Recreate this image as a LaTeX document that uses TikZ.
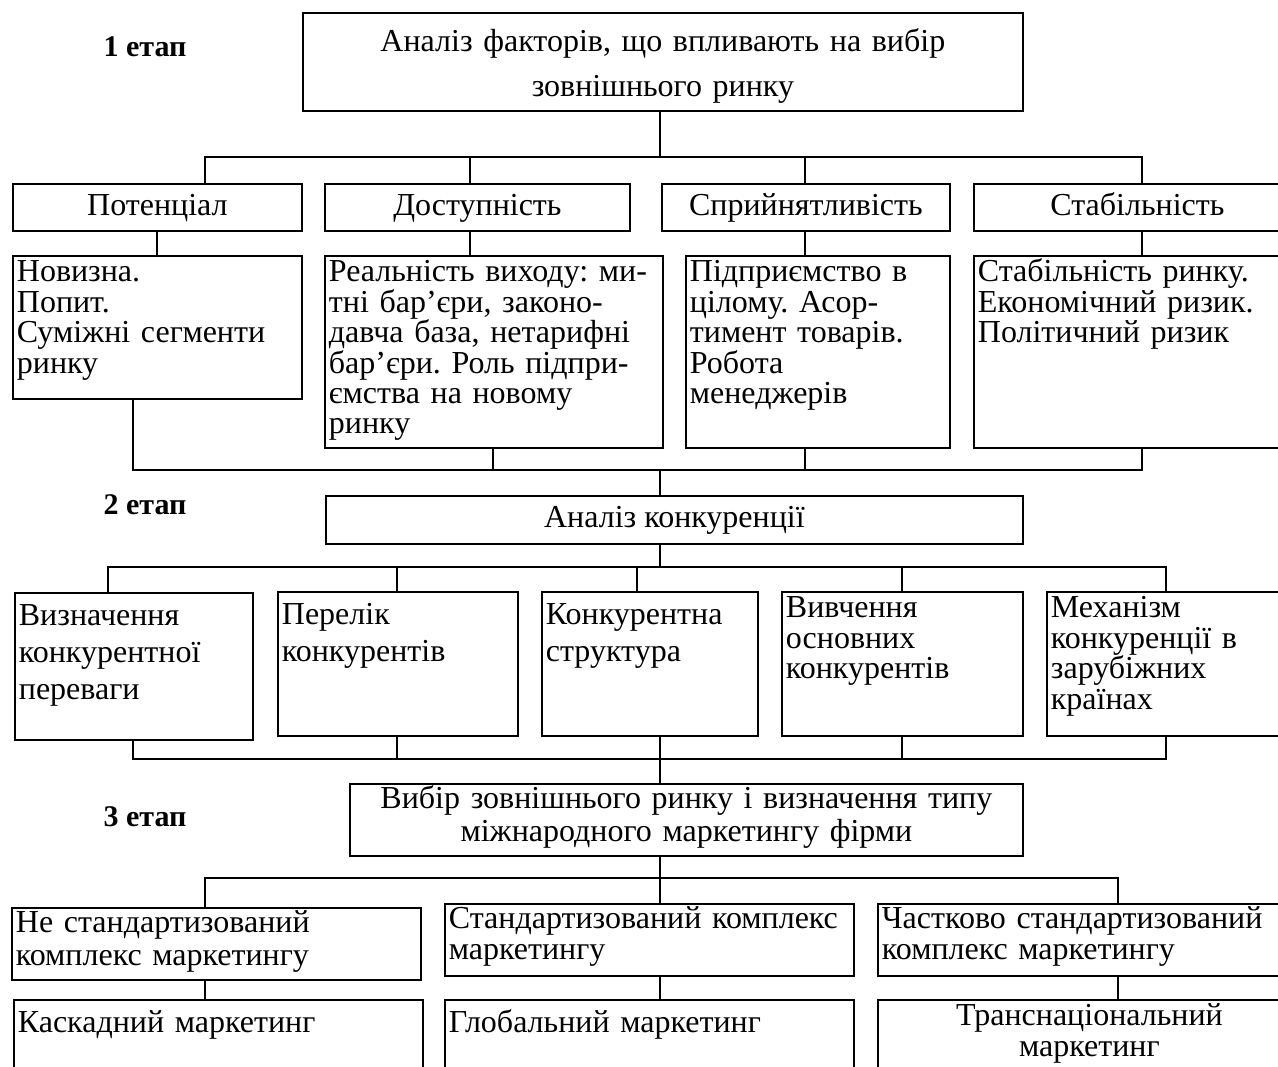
\documentclass[tikz,border=0pt]{standalone}
\usepackage{fontspec}
\setmainfont{Liberation Serif}
\usepackage{tikz}
\usetikzlibrary{positioning}

\begin{document}
\frenchspacing
\begin{tikzpicture}[
        x=0.5pt, y=-0.5pt,
        line width=0.9pt,
        txt/.style={font=\fontsize{16}{#1}\selectfont},
        head/.style={draw, anchor=north west, align=center, inner sep=0pt, text height=11.5pt, text depth=3.5pt, txt=15.2},
        note/.style={draw, anchor=north west, align=left, inner xsep=2pt, inner ysep=0pt, text height=13pt, txt=15.2},
        stage/.style={font=\fontsize{15}{18}\selectfont\bfseries}
    ]
        \useasboundingbox (0,0) rectangle (1278,1066);
        \clip (0,0) rectangle (1278,1066);

        % 1 етап
        \node[stage] (st1) at (145,47) {1 етап};
        \node[note, align=center, txt=22.5, text height=19.5pt, text width=356pt, text depth=29.5pt] (top) at (302,12) {Аналіз факторів, що впливають на вибір\\зовнішнього ринку};
        \coordinate (bus1) at (660,157);

        \node[head, minimum width=144.5pt, minimum height=23.5pt] (pot) at (12,183) {Потенціал};
        \node[head, minimum width=152.5pt, minimum height=23.5pt] (dost) at (324,183) {Доступність};
        \node[head, minimum width=144pt, minimum height=23.5pt] (spr) at (661,183) {Сприйнятливість};
        \node[head, minimum width=163.5pt, minimum height=23.5pt] (stab) at (973,183) {Стабільність};

        \node[note, text width=140.5pt, text depth=58.5pt] (pot2) at (12,255) {Новизна.\\Попит.\\Суміжні сегменти\\ринку};
        \node[note, text width=165pt, text depth=83pt] (dost2) at (324,255) {Реальність виходу: ми-\\тні бар’єри, законо-\\давча база, нетарифні\\бар’єри. Роль підпри-\\ємства на новому\\ринку};
        \node[note, text width=128pt, text depth=83pt] (spr2) at (685,255) {Підприємство в\\цілому. Асор-\\тимент товарів.\\Робота\\менеджерів};
        \node[note, text width=159.5pt, text depth=83pt] (stab2) at (973,255) {Стабільність ринку.\\Економічний ризик.\\Політичний ризик};

        \draw (top.south -| bus1) -- (bus1);
        \draw (pot.north -| 205,0) |- (bus1) -| (stab.north -| 1142,0);
        \draw (dost.north -| 470,0) -- (470,0 |- bus1);
        \draw (spr.north -| 805,0) -- (805,0 |- bus1);
        \foreach \x/\n in {157/pot, 470/dost, 805/spr, 1142/stab}
            \draw (\n.south -| \x,0) -- (\x,0 |- \n2.north);

        % 2 етап
        \node[stage] (st2) at (145,505) {2 етап};
        \coordinate (bus2) at (660,470);
        \node[head, minimum width=348.5pt, minimum height=24pt] (konk) at (325,495) {Аналіз конкуренції};
        \draw (pot2.south -| 133,0) |- (bus2) -| (stab2.south -| 1142,0);
        \draw (dost2.south -| 493,0) -- (493,0 |- bus2);
        \draw (spr2.south -| 805,0) -- (805,0 |- bus2);
        \draw (bus2) -- (konk.north -| bus2);

        \coordinate (bus3) at (660,567);
        \node[note, txt=18.35, text height=16.5pt, text width=115pt, text depth=57pt] (viz) at (14,592) {Визначення\\конкурентної\\переваги};
        \node[note, txt=18.35, text height=16.5pt, text width=116pt, text depth=55.5pt] (per) at (277,591) {Перелік\\конкурентів};
        \node[note, txt=18.35, text height=16.5pt, text width=104pt, text depth=55.5pt] (kon) at (541,591) {Конкурентна\\структура};
        \node[note, text width=116.5pt, text depth=59pt] (viv) at (781,591) {Вивчення\\основних\\конкурентів};
        \node[note, text width=123pt, text depth=59pt] (mech) at (1046,591) {Механізм\\конкуренції в\\зарубіжних\\країнах};

        \draw (konk.south -| bus3) -- (bus3);
        \draw (viz.north -| 108,0) |- (bus3) -| (mech.north -| 1166,0);
        \draw (per.north -| 397,0) -- (397,0 |- bus3);
        \draw (kon.north -| 637,0) -- (637,0 |- bus3);
        \draw (viv.north -| 902,0) -- (902,0 |- bus3);

        % 3 етап
        \node[stage] (st3) at (145,817) {3 етап};
        \coordinate (bus4) at (660,759);
        \node[note, align=center, txt=16.5, text height=12.5pt, text width=332.5pt, text depth=23.5pt] (choice) at (349,783) {Вибір зовнішнього ринку і визначення типу\\міжнародного маркетингу фірми};
        \draw (viz.south -| 133,0) |- (bus4) -| (mech.south -| 1166,0);
        \draw (per.south -| 397,0) -- (397,0 |- bus4);
        \draw (viv.south -| 902,0) -- (902,0 |- bus4);
        \draw (kon.south -| bus4) -- (choice.north -| bus4);

        \coordinate (bus5) at (660,878);
        \node[note, txt=16.5, text height=12.5pt, text width=200.5pt, text depth=23.5pt] (nst) at (11,907) {Не стандартизований\\комплекс маркетингу};
        \node[note, txt=15.5, text height=12.5pt, text width=200.5pt, text depth=23.5pt] (std) at (444,903) {Стандартизований комплекс\\маркетингу};
        \node[note, txt=15.5, text height=12.5pt, text width=207.5pt, text depth=23.5pt] (part) at (877,903) {Частково стандартизований\\комплекс маркетингу};

        \node[note, text height=16.5pt, text width=200.5pt, text depth=29pt] (kas) at (13,999) {Каскадний маркетинг};
        \node[note, text height=16.5pt, text width=200.5pt, text depth=29pt] (glob) at (444,999) {Глобальний маркетинг};
        \node[note, align=center, txt=15.2, text height=13pt, text width=207.5pt, text depth=32.5pt] (trans) at (877,999) {Транснаціональний\\маркетинг};

        \draw (choice.south -| bus5) -- (bus5);
        \draw (nst.north -| 205,0) |- (bus5) -| (part.north -| 1118,0);
        \draw (bus5) -- (std.north -| bus5);
        \foreach \x/\a/\b in {205/nst/kas, 660/std/glob, 1118/part/trans}
            \draw (\a.south -| \x,0) -- (\x,0 |- \b.north);
\end{tikzpicture}
\end{document}
